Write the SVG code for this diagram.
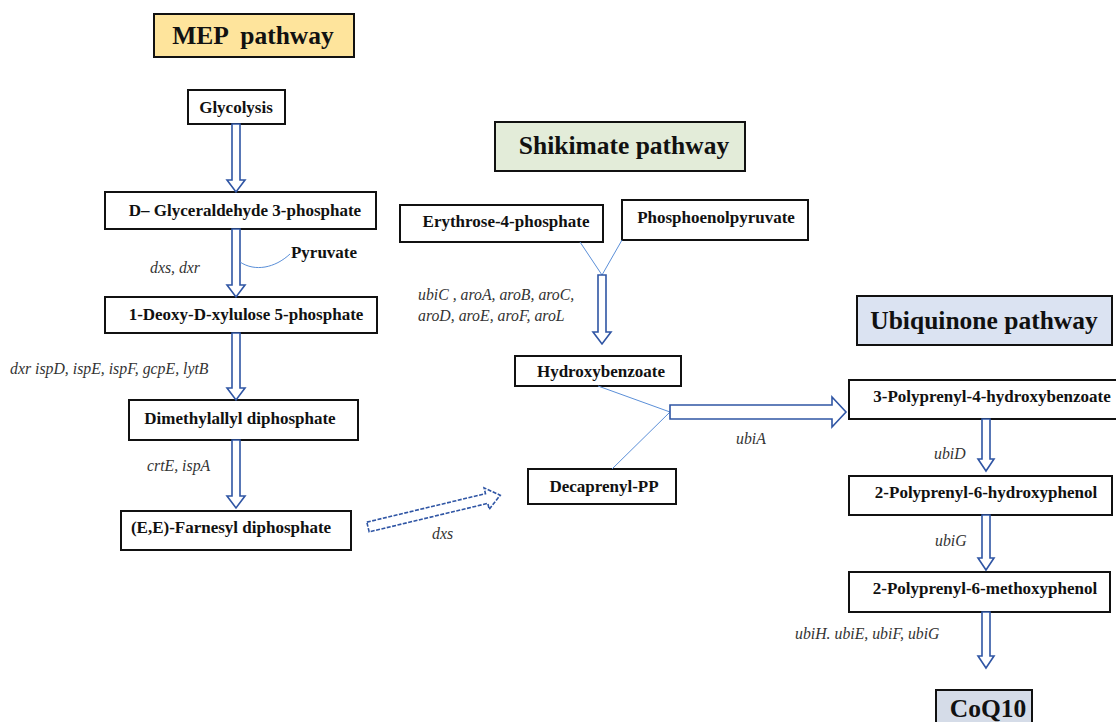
<svg xmlns="http://www.w3.org/2000/svg" width="1116" height="722" viewBox="0 0 1116 722">
<style>
.box{fill:#fff;stroke:#111;stroke-width:2}
.t{font-weight:bold;font-size:17px;fill:#111;text-anchor:middle}
.title{font-weight:bold;font-size:25.5px;fill:#111;text-anchor:middle}
.lab{font-style:italic;font-size:15.8px;fill:#333}
.arr{fill:#fff;stroke:#2f55a4;stroke-width:1.6;stroke-linejoin:miter}
.ln{fill:none;stroke:#5b8fd8;stroke-width:1}
</style>
<rect width="1116" height="722" fill="#fff"/>
<g font-family="Liberation Serif, Times New Roman, DejaVu Serif, serif">
<g id="title-mep"><rect x="154" y="14" width="200" height="43" fill="#fee49c" stroke="#111" stroke-width="2"/><text class="title" x="253" y="44" xml:space="preserve">MEP  pathway</text></g>
<g id="title-shikimate"><rect x="495" y="122" width="250" height="49" fill="#e3ecd9" stroke="#111" stroke-width="2"/><text class="title" x="624" y="154">Shikimate pathway</text></g>
<g id="title-ubiquinone"><rect x="857" y="296" width="255" height="49" fill="#dbe3f2" stroke="#111" stroke-width="2"/><text class="title" x="984" y="329">Ubiquinone pathway</text></g>

<g id="glycolysis"><rect class="box" x="188" y="90" width="97" height="34"/><text class="t" x="236" y="113">Glycolysis</text></g>
<g id="g3p"><rect class="box" x="105" y="192" width="271" height="37"/><text class="t" x="245" y="216">D– Glyceraldehyde 3-phosphate</text></g>
<g id="pyruvate"><text class="t" x="324" y="258" font-size="18">Pyruvate</text></g>
<g id="dxp"><rect class="box" x="105" y="297" width="272" height="36"/><text class="t" x="246" y="320">1-Deoxy-D-xylulose 5-phosphate</text></g>
<g id="dmapp"><rect class="box" x="129" y="400" width="229" height="40"/><text class="t" x="240" y="424">Dimethylallyl diphosphate</text></g>
<g id="fpp"><rect class="box" x="121" y="511" width="230" height="39"/><text class="t" x="231" y="533">(E,E)-Farnesyl diphosphate</text></g>

<g id="e4p"><rect class="box" x="400" y="205" width="203" height="37"/><text class="t" x="506" y="227">Erythrose-4-phosphate</text></g>
<g id="pep"><rect class="box" x="622" y="200" width="186" height="40"/><text class="t" x="716" y="223">Phosphoenolpyruvate</text></g>
<g id="hb"><rect class="box" x="515" y="356" width="166" height="30"/><text class="t" x="601" y="377">Hydroxybenzoate</text></g>
<g id="dpp"><rect class="box" x="528" y="469" width="148" height="35"/><text class="t" x="604" y="492">Decaprenyl-PP</text></g>

<g id="phb"><rect class="box" x="849" y="380" width="268" height="39"/><text class="t" x="992" y="402">3-Polyprenyl-4-hydroxybenzoate</text></g>
<g id="php"><rect class="box" x="849" y="476" width="263" height="39"/><text class="t" x="986" y="498">2-Polyprenyl-6-hydroxyphenol</text></g>
<g id="pmp"><rect class="box" x="849" y="572" width="261" height="40"/><text class="t" x="985" y="594">2-Polyprenyl-6-methoxyphenol</text></g>
<g id="coq10"><rect x="936" y="690" width="96" height="40" fill="#d5dce8" stroke="#111" stroke-width="2"/><text class="title" x="988" y="717" font-size="23">CoQ10</text></g>

<g id="labels">
<text class="lab" x="150" y="273">dxs, dxr</text>
<text class="lab" x="10" y="374">dxr ispD, ispE, ispF, gcpE, lytB</text>
<text class="lab" x="147" y="471">crtE, ispA</text>
<text class="lab" x="432" y="539">dxs</text>
<text class="lab" x="418" y="300">ubiC , aroA, aroB, aroC,</text>
<text class="lab" x="418" y="321">aroD, aroE, aroF, aroL</text>
<text class="lab" x="736" y="444">ubiA</text>
<text class="lab" x="934" y="459">ubiD</text>
<text class="lab" x="935" y="546">ubiG</text>
<text class="lab" x="795" y="639">ubiH. ubiE, ubiF, ubiG</text>
</g>
</g>
<g id="connectors">
<polygon class="arr" points="232,124 240,124 240,180 245,180 236,192 227,180 232,180"/>
<polygon class="arr" points="232,229 240,229 240,285 245,285 236,297 227,285 232,285"/>
<path class="ln" d="M240,262 C255,272 275,268 290,254"/>
<polygon class="arr" points="232,333 240,333 240,388 245,388 236,400 227,388 232,388"/>
<polygon class="arr" points="232,440 240,440 240,496 245,496 236,508 227,496 232,496"/>
<polygon class="arr" points="0,-5 122,-5 122,-11 136,0 122,11 122,5 0,5" transform="translate(368,527) rotate(-13.5)" stroke-dasharray="4,1.5"/>
<path class="ln" d="M580,242 L602,275 L622,240"/>
<polygon class="arr" points="598,275 606,275 606,332 611,332 602,344 593,332 598,332"/>
<path class="ln" d="M598,386 L670,412 L612,469"/>
<polygon class="arr" points="670,405 832,405 832,397 846,412 832,427 832,419 670,419"/>
<polygon class="arr" points="982,419 990,419 990,459 994,459 986,471 978,459 982,459"/>
<polygon class="arr" points="982,515 990,515 990,558 994,558 986,570 978,558 982,558"/>
<polygon class="arr" points="982,612 990,612 990,656 994,656 986,668 978,656 982,656"/>
</g>
</svg>
